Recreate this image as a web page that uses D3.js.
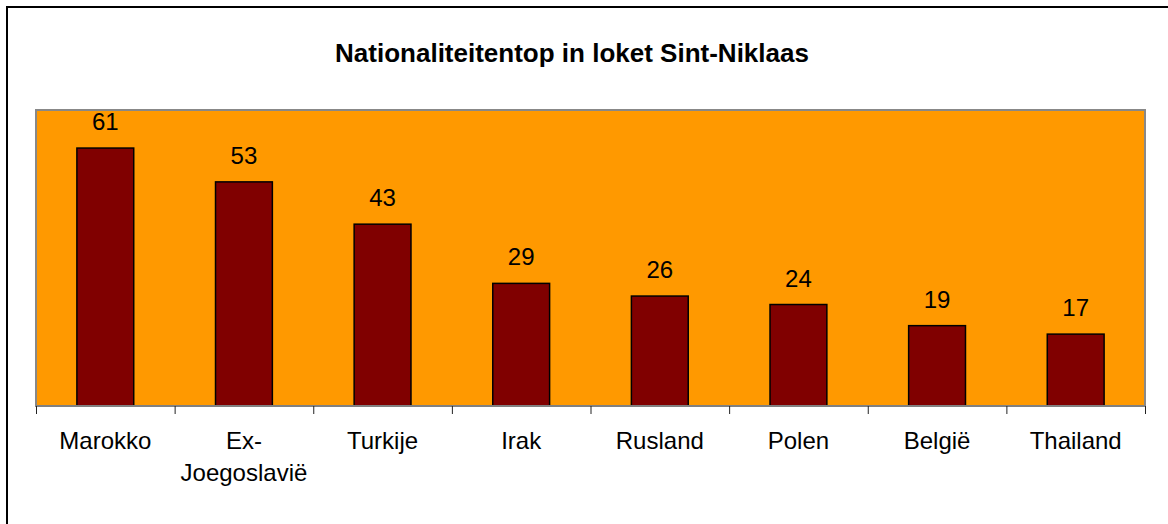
<!DOCTYPE html>
<html>
<head>
<meta charset="utf-8">
<script src="https://cdn.jsdelivr.net/npm/d3@7"></script>
<style>
  body { margin: 0; background: #fff; }
  svg text { font-family: "Liberation Sans", Arial, sans-serif; }
</style>
</head>
<body>
<svg id="chart" width="1168" height="524"></svg>
<script>
// chart data
const landen = ["Marokko", "Ex-Joegoslavië", "Turkije", "Irak", "Rusland", "Polen", "België", "Thailand"];
const aantallen = [61, 53, 43, 29, 26, 24, 19, 17];
// labels on the axis, line-broken like the original
const asLabels = [["Marokko"], ["Ex-", "Joegoslavië"], ["Turkije"], ["Irak"], ["Rusland"], ["Polen"], ["België"], ["Thailand"]];

const svg = d3.select("#chart");

// outer chart border (only top/left fall inside the picture)
svg.append("rect")
    .attr("x", 7).attr("y", 7)
    .attr("width", 1170).attr("height", 530)
    .attr("fill", "#fff")
    .attr("stroke", "#000")
    .attr("stroke-width", 2);

// title
svg.append("text")
    .attr("x", 572)
    .attr("y", 62)
    .attr("text-anchor", "middle")
    .attr("font-size", "26px")
    .attr("font-weight", "bold")
    .text("Nationaliteitentop in loket Sint-Niklaas");

const plot = { left: 36, right: 1145, top: 110, bottom: 406 };

const x = d3.scaleBand()
    .domain(landen)
    .range([plot.left, plot.right])
    .paddingInner(0.59)
    .paddingOuter(0.295);

const y = d3.scaleLinear()
    .domain([0, 70])
    .range([plot.bottom, plot.top]);

// orange plot area
svg.append("rect")
    .attr("x", plot.left).attr("y", plot.top)
    .attr("width", plot.right - plot.left)
    .attr("height", plot.bottom - plot.top)
    .attr("fill", "#FF9900")
    .attr("stroke", "#888")
    .attr("stroke-width", 2);

// bars
svg.selectAll("rect.bar")
    .data(aantallen)
    .join("rect")
    .attr("class", "bar")
    .attr("x", (d, i) => x(landen[i]))
    .attr("y", d => y(d))
    .attr("width", x.bandwidth())
    .attr("height", d => y(0) - y(d))
    .attr("fill", "#800000")
    .attr("stroke", "#000")
    .attr("stroke-width", 1.5);

// value labels
svg.selectAll("text.val")
    .data(aantallen)
    .join("text")
    .attr("class", "val")
    .attr("x", (d, i) => x(landen[i]) + x.bandwidth() / 2)
    .attr("y", d => y(d) - 18)
    .attr("text-anchor", "middle")
    .attr("font-size", "24px")
    .text(d => d);

// category axis line + ticks at category boundaries
const stap = x.step();
svg.append("line")
    .attr("x1", plot.left).attr("x2", plot.right)
    .attr("y1", plot.bottom).attr("y2", plot.bottom)
    .attr("stroke", "#808080")
    .attr("stroke-width", 2);

svg.selectAll("line.tick")
    .data(d3.range(landen.length + 1))
    .join("line")
    .attr("class", "tick")
    .attr("x1", i => plot.left + i * stap + 0.5)
    .attr("x2", i => plot.left + i * stap + 0.5)
    .attr("y1", plot.bottom)
    .attr("y2", plot.bottom + 8)
    .attr("stroke", "#222")
    .attr("stroke-width", 1);

// category labels
const lbl = svg.selectAll("text.cat")
    .data(asLabels)
    .join("text")
    .attr("class", "cat")
    .attr("text-anchor", "middle")
    .attr("font-size", "24px")
    .attr("transform", (d, i) => `translate(${x(landen[i]) + x.bandwidth() / 2},449)`);

lbl.selectAll("tspan")
    .data(d => d)
    .join("tspan")
    .attr("x", 0)
    .attr("y", (d, j) => j * 32)
    .text(d => d);
</script>
</body>
</html>
